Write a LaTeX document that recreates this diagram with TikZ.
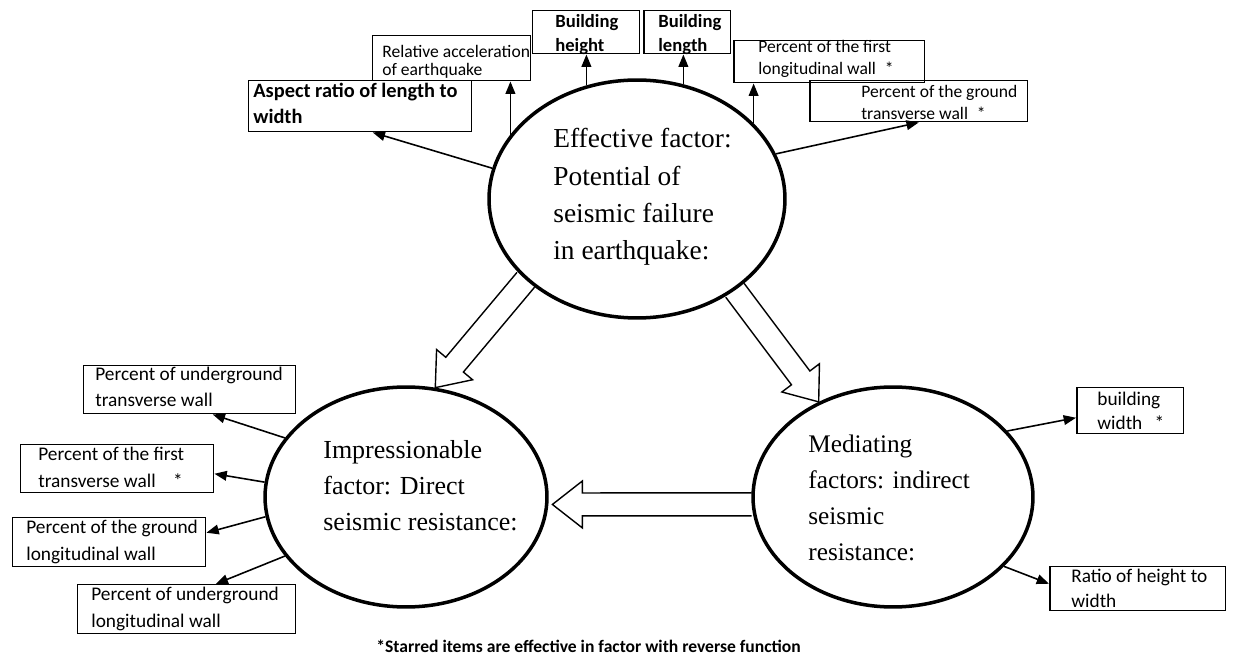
\documentclass[tikz,border=0pt]{standalone}
\usepackage{fontspec}
\setmainfont{Carlito}
\newfontfamily\ellfont{Liberation Serif}
\usetikzlibrary{arrows.meta,shapes.geometric,calc}
\tikzset{
  ell/.style={ellipse, draw, line width=2pt, inner sep=0pt},
  box/.style={rectangle, draw, line width=0.85pt, inner sep=0pt, anchor=north west},
  lbl/.style={inner sep=0pt, anchor=base west, align=left, font=\fontsize{11}{14.8}\selectfont},
  toplbl/.style={lbl, font=\fontsize{10}{10.4}\selectfont},
  smalllbl/.style={lbl, font=\fontsize{10}{13}\selectfont},
  boldlbl/.style={lbl, font=\bfseries\fontsize{10.6}{14.2}\selectfont},
  elltxt/.style={inner sep=0pt, anchor=base west, align=left},
  conn/.style={line width=0.9pt, -{Triangle[length=7pt,width=5.5pt]}},
  hollow/.style={line width=0.8pt, line join=miter},
}
\newcommand\blockarrow[3]{%
  \coordinate (#3) at ($(#2)!0.6cm!(#1)$);
  \draw[hollow] ($(#1)!0.23cm!90:(#2)$) -- ($(#3)!0.23cm!-90:(#1)$)
    -- ($(#3)!0.47cm!-90:(#1)$) -- (#2) -- ($(#3)!0.47cm!90:(#1)$)
    -- ($(#3)!0.23cm!90:(#1)$) -- ($(#1)!0.23cm!-90:(#2)$);
}
\begin{document}
\begin{tikzpicture}[x=0.02cm, y=-0.02cm]
\fill[white] (0,0) rectangle (1241,658);
\useasboundingbox (0,0) rectangle (1241,658);

% ellipses
\node[ell, minimum width=5.92cm, minimum height=4.76cm] (top) at (637,199) {};
\node[ell, minimum width=5.64cm, minimum height=4.40cm] (left) at (406,497) {};
\node[ell, minimum width=5.60cm, minimum height=4.40cm] (right) at (893,497) {};

% (anchor base west = baseline of the last line)
\node[elltxt, font=\ellfont\fontsize{15.6}{21.3}\selectfont] (toptxt) at (553,260)
  {Effective factor:\\Potential of\\seismic failure\\in earthquake:};
\node[elltxt, font=\ellfont\fontsize{14.8}{20.4}\selectfont] (lefttxt) at (323,530)
  {Impressionable\\factor: Direct\\seismic resistance:};
\node[elltxt, font=\ellfont\fontsize{14.4}{20.4}\selectfont] (righttxt) at (808,560)
  {Mediating\\factors: indirect\\seismic\\resistance:};

% boxes
\node[box, minimum width=3.16cm, minimum height=0.90cm] (rel) at (372,35) {};
\node[box, minimum width=2.14cm, minimum height=0.86cm] (bh) at (532,10) {};
\node[box, minimum width=1.74cm, minimum height=0.86cm] (bl) at (643,10) {};
\node[box, minimum width=3.82cm, minimum height=0.84cm] (flw) at (733,40) {};
\node[box, minimum width=4.36cm, minimum height=0.82cm] (gtw) at (809,80) {};
\node[box, minimum width=4.46cm, minimum height=1.02cm] (asp) at (248,80) {};
\node[box, minimum width=4.24cm, minimum height=0.96cm] (utw) at (83,365) {};
\node[box, minimum width=3.86cm, minimum height=0.96cm] (ftw) at (20,444) {};
\node[box, minimum width=3.86cm, minimum height=0.98cm] (glw) at (12,517) {};
\node[box, minimum width=4.36cm, minimum height=0.98cm] (ulw) at (77,584) {};
\node[box, minimum width=2.14cm, minimum height=0.92cm] (bw) at (1076,387) {};
\node[box, minimum width=3.52cm, minimum height=0.88cm] (rhw) at (1049,566) {};

% labels (positioned at the baseline of their last line)
\node[toplbl] (relt) at (382,76) {Relative acceleration\\of earthquake};
\node[boldlbl] (bht) at (555,52) {Building\\height};
\node[boldlbl] (blt) at (658,52) {Building\\length};
\node[smalllbl] (flwt) at (758,75) {Percent of the first\\longitudinal wall\hspace{5pt}*};
\node[smalllbl] (gtwt) at (861,120) {Percent of the ground\\transverse wall\hspace{5pt}*};
\node[lbl, font=\bfseries\fontsize{11.6}{15.3}\selectfont] (aspt) at (253,124) {Aspect ratio of length to\\width};
\node[lbl] (utwt) at (95,407) {Percent of underground\\transverse wall};
\node[lbl] (ftwt) at (38,487) {Percent of the first\\transverse wall\hspace{10pt}*};
\node[lbl] (glwt) at (26,560) {Percent of the ground\\longitudinal wall};
\node[lbl] (ulwt) at (91,627) {Percent of underground\\longitudinal wall};
\node[lbl, font=\fontsize{11}{14.2}\selectfont] (bwt) at (1097,430) {building\\width\hspace{7pt}*};
\node[lbl, font=\fontsize{11}{14.2}\selectfont] (rhwt) at (1071,607) {Ratio of height to\\width};

\node[inner sep=0pt, anchor=base west, font=\bfseries\fontsize{10}{12}\selectfont] (note) at (376,652)
  {*Starred items are effective in factor with reverse function};

% connectors from the top ellipse
\draw[conn] (top.168) -- ([xshift=0.25cm]asp.south);
\draw[conn] (top.153) -- (top.153 |- rel.south);
\draw[conn] (top.114) -- (top.114 |- bh.south);
\draw[conn] (top.68) -- (top.68 |- bl.south);
\draw[conn] (top.33) -- (top.33 |- flw.south);
\draw[conn] (top.18) -- (gtw.south);

% connectors from the left ellipse
\draw[conn] (left.154) -- ([xshift=0.46cm]utw.south);
\draw[conn] (left.174) -- ([yshift=-0.1cm]ftw.east);
\draw[conn] (left.188) -- ([yshift=0.19cm]glw.east);
\draw[conn] (left.206) -- ([xshift=0.58cm]ulw.north);

% connectors from the right ellipse
\draw[conn] (right.30) -- ([yshift=-0.14cm]bw.west);
\draw[conn] (right.328) -- ([yshift=0.1cm]rhw.west);

% hollow block arrows
\coordinate (a1) at (top.216);
\coordinate (b1) at (left.75);
\blockarrow{a1}{b1}{h1}
\coordinate (a2) at (top.317);
\coordinate (b2) at (right.128);
\blockarrow{a2}{b2}{h2}
\coordinate (a3) at (right.183);
\coordinate (b3) at ([xshift=0.08cm]left.357);
\blockarrow{a3}{b3}{h3}
\end{tikzpicture}
\end{document}
